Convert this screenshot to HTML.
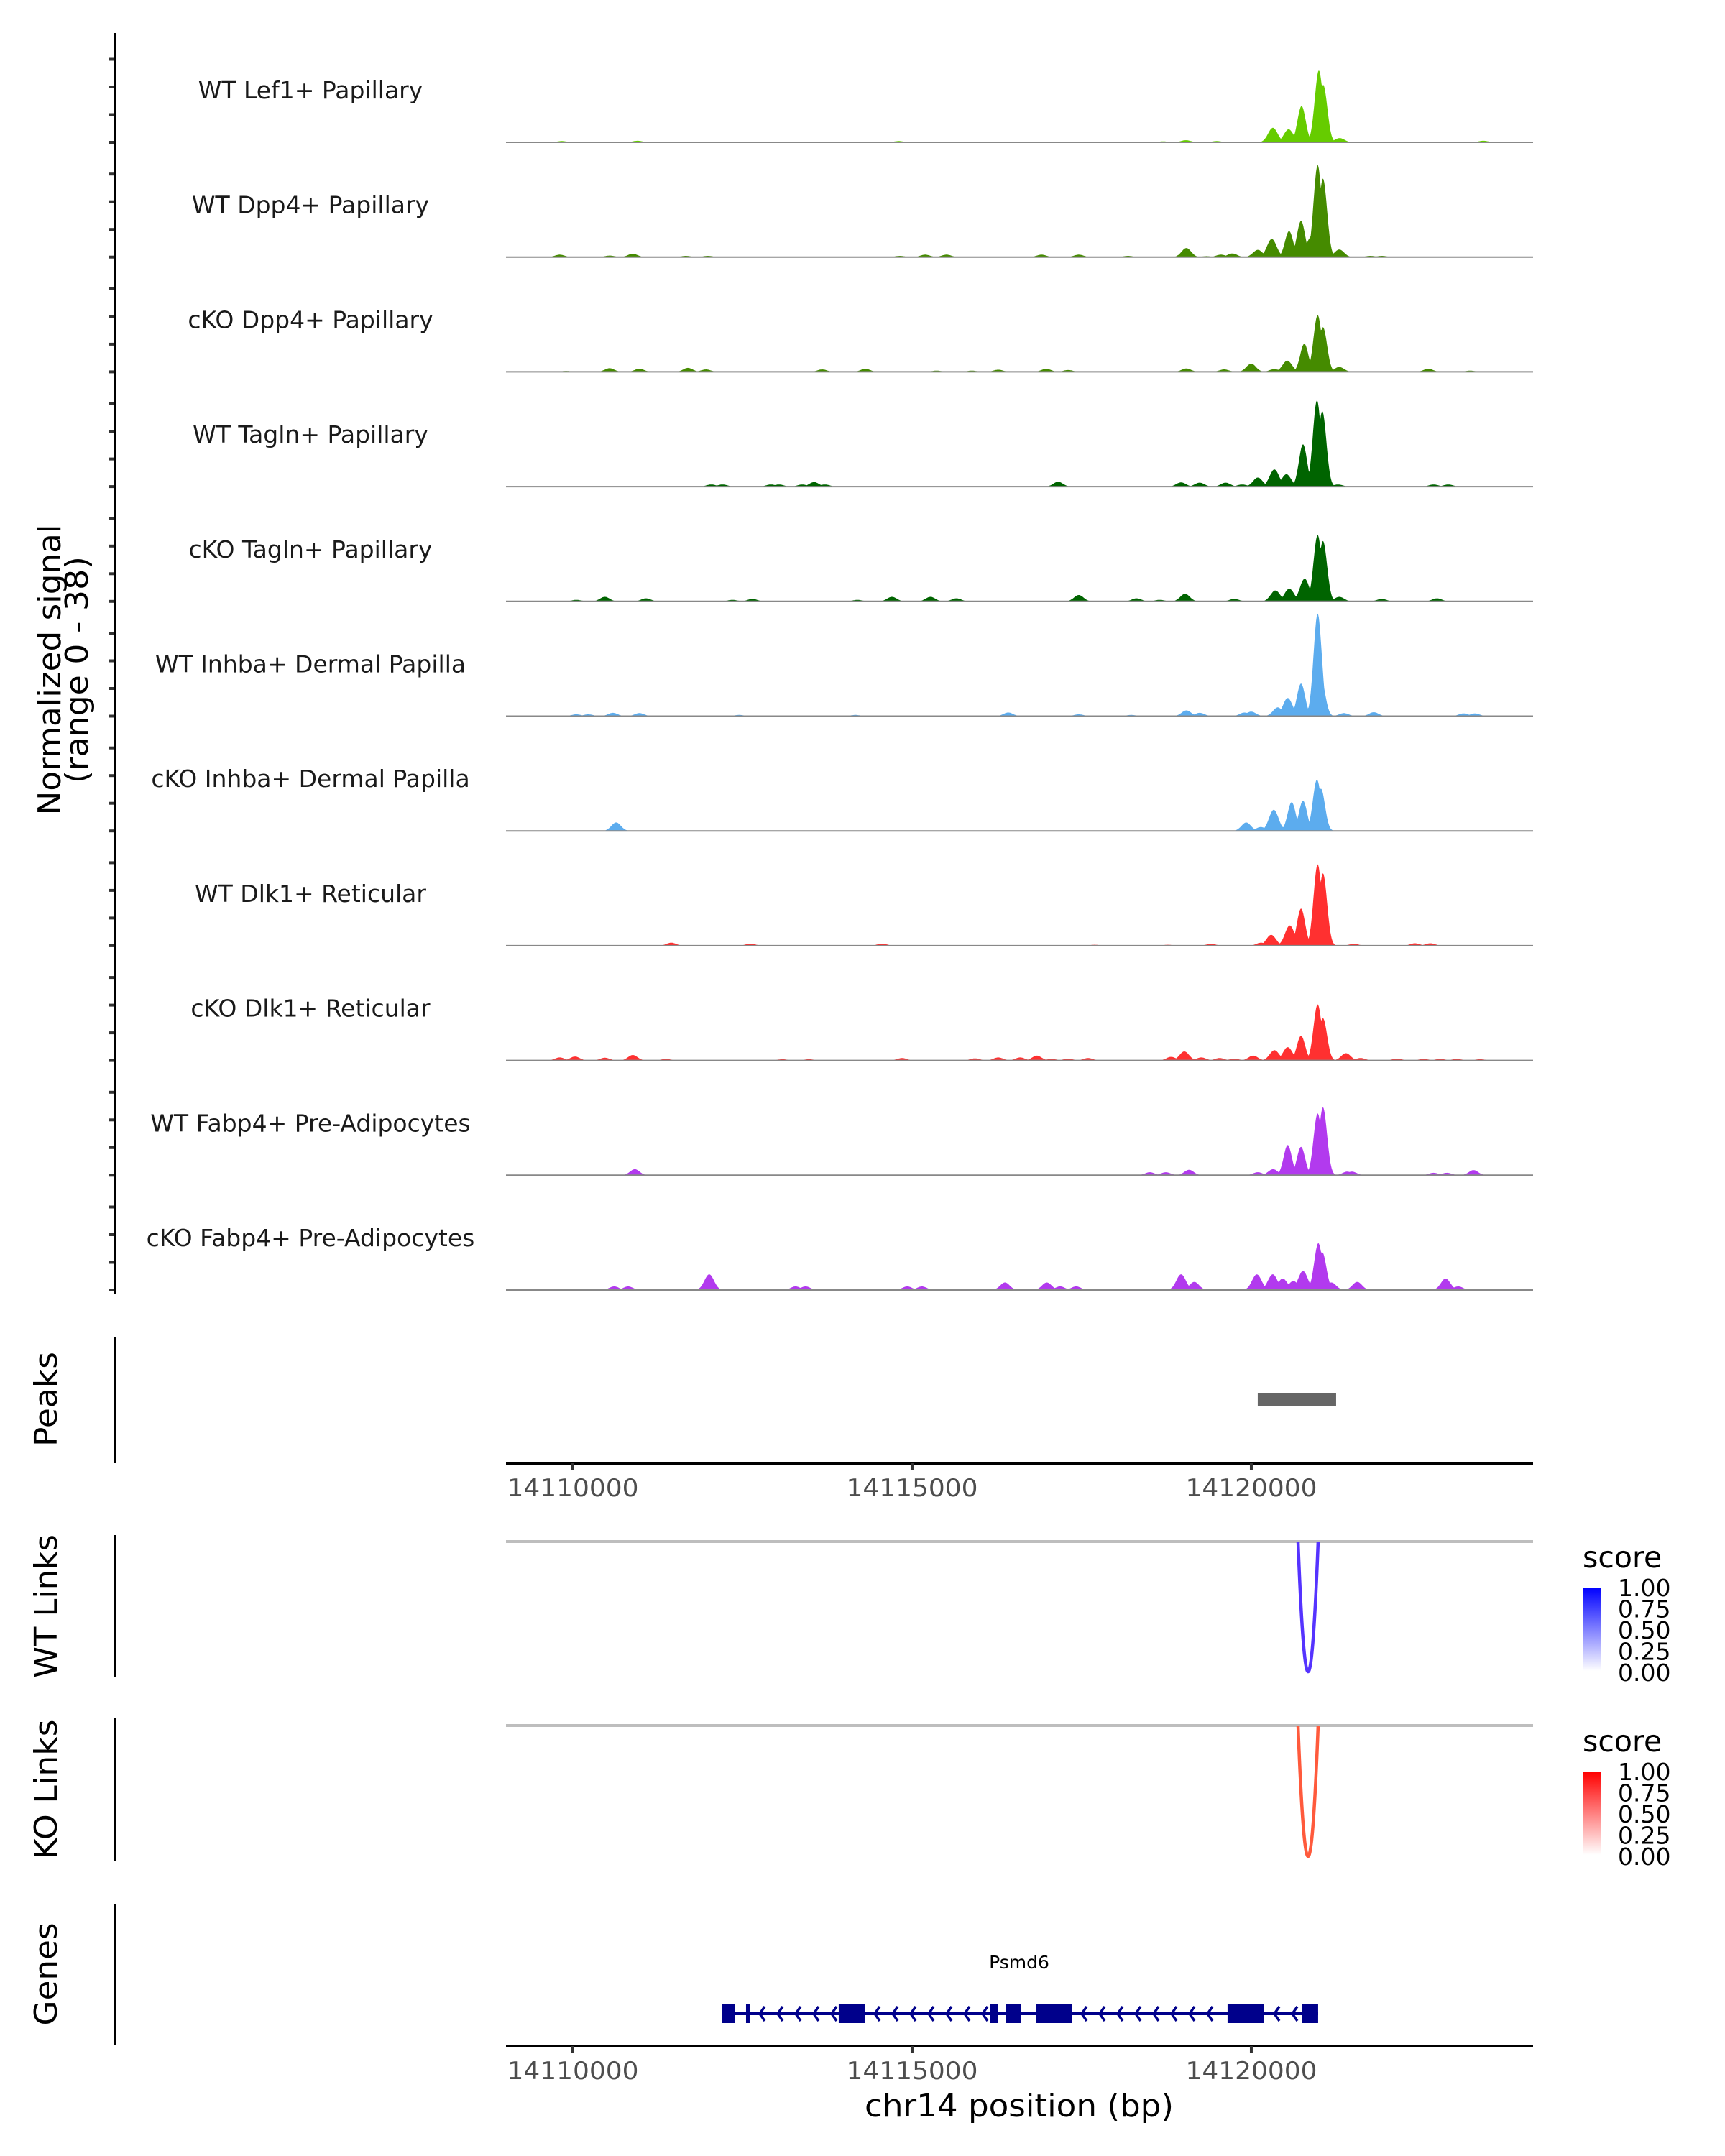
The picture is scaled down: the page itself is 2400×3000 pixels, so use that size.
<!DOCTYPE html>
<html><head><meta charset="utf-8"><title>Coverage plot chr14</title>
<style>
html,body{margin:0;padding:0;background:#fff;}
svg{display:block;font-family:"DejaVu Sans","Liberation Sans",sans-serif;}
</style></head>
<body>
<svg id="chart" xmlns="http://www.w3.org/2000/svg" width="2400" height="3000" viewBox="0 0 2400 3000">
<defs>
<linearGradient id="gradWT" x1="0" y1="1" x2="0" y2="0"><stop offset="0" stop-color="#ffffff"/><stop offset="1" stop-color="#0000ff"/></linearGradient>
<linearGradient id="gradKO" x1="0" y1="1" x2="0" y2="0"><stop offset="0" stop-color="#ffffff"/><stop offset="1" stop-color="#ff0000"/></linearGradient>
<clipPath id="plotClip"><rect x="704" y="0" width="1429" height="3000"/></clipPath>
<clipPath id="wtClip"><rect x="704" y="2145" width="1429" height="200"/></clipPath>
<clipPath id="koClip"><rect x="704" y="2401" width="1429" height="200"/></clipPath>
</defs>
<g id="tracks" clip-path="url(#plotClip)"></g>
<g id="labels"></g>
<g id="axes"></g>
<g id="extra"></g>
</svg>
<script>
// ---- data ----
const regionStart = 14109015;
const regionEnd = 14124153;
const trackNames = ["WT Lef1+ Papillary","WT Dpp4+ Papillary","cKO Dpp4+ Papillary","WT Tagln+ Papillary","cKO Tagln+ Papillary","WT Inhba+ Dermal Papilla","cKO Inhba+ Dermal Papilla","WT Dlk1+ Reticular","cKO Dlk1+ Reticular","WT Fabp4+ Pre-Adipocytes","cKO Fabp4+ Pre-Adipocytes"];
const trackColors = ["#66cc00","#458b00","#458b00","#006400","#006400","#5cacee","#5cacee","#ff3030","#ff3030","#b23aee","#b23aee"];
const yMax = 38;
const xTicks = [14110000,14115000,14120000];

// peak positions (bp) and heights (normalized signal) per track
const lef1Pos = [14120996,14121060,14120741,14120550,14120318,14121303,14119036,14119490,14109838,14110953,14114804,14123420,14118700];
const lef1H   = [23.8,19,12,4.3,4.8,1.4,0.7,0.4,0.4,0.5,0.4,0.5,0.3];
const wtDpp4Pos = [14120978,14121056,14120880,14120733,14120557,14120302,14120096,14119043,14121297,14119720,14119553,14109806,14110541,14110883,14111667,14111990,14114821,14115194,14115507,14116908,14117457,14118182,14121757,14121923,14119340];
const wtDpp4H   = [30.5,26,6.6,12,8.6,6,2.4,3,2.5,1.2,0.8,0.8,0.5,1.1,0.4,0.4,0.4,0.8,0.8,0.8,0.8,0.4,0.4,0.4,0.3];
const koDpp4Pos = [14120978,14121056,14120781,14120530,14119998,14121297,14119043,14122609,14123226,14110541,14110981,14111697,14111961,14113675,14114312,14116271,14116977,14117300,14119600,14120340,14109900,14115360,14115880];
const koDpp4H   = [18.8,14.8,9.3,3.7,2.7,1.6,1.1,1.0,0.4,1.2,1.0,1.3,0.8,0.8,1.0,0.7,1.0,0.6,0.8,0.9,0.3,0.4,0.4];
const wtTaglnPos = [14120968,14121046,14120762,14120340,14120517,14120096,14112040,14112206,14112920,14113038,14113381,14113557,14113714,14117153,14118965,14119239,14119621,14119866,14121277,14122687,14122903];
const wtTaglnH   = [28.6,25,14,5.7,4.1,3,0.7,0.7,0.7,0.7,0.7,1.5,0.7,1.6,1.4,1.3,1.3,0.7,0.7,0.7,0.7];
const koTaglnPos = [14120978,14121056,14120786,14120560,14120355,14119023,14117457,14121297,14110472,14111079,14112647,14114704,14115272,14115654,14118309,14119749,14121923,14122737,14110051,14112353,14114194,14118650];
const koTaglnH   = [22,20,7.5,4.2,3.6,2.5,2.1,1.5,1.5,1.0,0.8,1.5,1.5,1.0,1.0,0.8,0.8,1.0,0.5,0.5,0.5,0.5];
const wtInhbaPos = [14120978,14121030,14120733,14120537,14120390,14119998,14119043,14121806,14121365,14119239,14110590,14110981,14116418,14117457,14123128,14123295,14110051,14110227,14112450,14114165,14118230,14119900];
const wtInhbaH   = [34,12,10.8,6,2.9,1.5,1.9,1.3,1.0,1.1,1.1,1.0,1.2,0.6,0.9,0.9,0.6,0.6,0.4,0.4,0.4,1.2];
const koInhbaPos = [14120968,14121026,14120762,14120595,14120331,14119925,14120140,14120429,14110638];
const koInhbaH   = [17,14,10,9.5,7,2.8,1.3,1.5,2.8];
const wtDlk1Pos = [14120978,14121056,14120733,14120567,14120293,14120145,14111451,14112617,14114557,14119406,14121512,14122413,14122638,14117692,14118770];
const wtDlk1H   = [27,24,12.3,6.7,3.6,1.0,1.0,0.7,0.7,0.6,0.6,0.8,0.8,0.3,0.3];
const koDlk1Pos = [14120978,14121056,14120733,14120537,14120341,14120027,14119013,14118818,14119263,14119533,14121395,14121610,14109806,14110031,14110472,14110883,14111373,14113087,14113479,14114851,14115928,14116271,14116594,14116839,14117055,14117300,14117594,14122148,14122540,14122785,14123030,14123373,14119750];
const koDlk1H   = [18.6,14,8.2,4.4,3.4,1.6,3,1.2,1.0,0.8,2.4,0.8,1.0,1.3,0.9,1.8,0.5,0.4,0.4,0.8,0.7,1.0,1.0,1.6,0.5,0.6,0.8,0.6,0.5,0.5,0.5,0.4,0.6];
const wtFabp4Pos = [14121056,14120978,14120733,14120537,14120321,14120096,14121414,14121483,14110913,14118504,14118740,14119082,14122687,14122883,14123275];
const wtFabp4H   = [22.5,20.5,9.4,10,2,1.0,1.2,1.2,2,1.0,1.0,1.8,0.8,0.8,1.7];
const koFabp4Pos = [14120988,14121046,14120762,14120316,14120081,14120463,14118965,14119160,14121561,14122864,14123050,14112010,14110609,14110815,14113283,14113430,14114929,14115145,14116369,14116986,14117182,14117418,14120620,14121180];
const koFabp4H   = [15.5,12.5,6.3,5.2,5.2,3.8,5.2,2.7,2.7,3.8,1.2,5.2,1.2,1.2,1.2,1.2,1.2,1.2,2.5,2.5,1.2,1.2,3,2.5];

const trackPos = [lef1Pos,wtDpp4Pos,koDpp4Pos,wtTaglnPos,koTaglnPos,wtInhbaPos,koInhbaPos,wtDlk1Pos,koDlk1Pos,wtFabp4Pos,koFabp4Pos];
const trackH = [lef1H,wtDpp4H,koDpp4H,wtTaglnH,koTaglnH,wtInhbaH,koInhbaH,wtDlk1H,koDlk1H,wtFabp4H,koFabp4H];

const peakStarts = [14120095];
const peakEnds = [14121250];
const wtLinkStart = [14120689];
const wtLinkEnd = [14120985];
const wtLinkScore = [1.0];
const koLinkStart = [14120689];
const koLinkEnd = [14120985];
const koLinkScore = [1.0];
const legendTicks = ["1.00","0.75","0.50","0.25","0.00"];
const geneName = "Psmd6";
const geneStart = 14112203, geneEnd = 14120985;
const exonStarts = [14112203,14112553,14113919,14116155,14116388,14116833,14119650,14120752];
const exonEnds   = [14112394,14112606,14114301,14116271,14116600,14117352,14120191,14120985];

// ---- layout ----
const NS = "http://www.w3.org/2000/svg";
const X0 = 704, X1 = 2133;
function xScale(bp){ return X0 + (bp - regionStart) / (regionEnd - regionStart) * (X1 - X0); }
const tickStep = 38.5, trackHeight = 159.7;
function baseY(i){ return 198 + i * trackHeight; }
function yScale(i, v){ return baseY(i) - v / yMax * trackHeight; }
function mk(tag, attrs, parent){ const e = document.createElementNS(NS, tag); for (const k in attrs) e.setAttribute(k, attrs[k]); parent.appendChild(e); return e; }

const gT = document.getElementById('tracks');
const gL = document.getElementById('labels');
const gA = document.getElementById('axes');
const gE = document.getElementById('extra');
const step = 10;

for (let i = 0; i < trackNames.length; i++) {
  const pos = trackPos[i], h = trackH[i];
  let d = "M" + X0 + "," + baseY(i);
  for (let bp = regionStart; bp <= regionEnd; bp += step) {
    let v = 0;
    for (let k = 0; k < pos.length; k++) {
      const dx = (bp - pos[k]) / (h[k] > 8 ? 60 : 70);
      if (Math.abs(dx) < 4) v = Math.max(v, h[k] * Math.exp(-0.5 * dx * dx));
    }
    if (v < 0.2) v = 0;
    d += " L" + xScale(bp).toFixed(1) + "," + yScale(i, v).toFixed(1);
  }
  d += " L" + X1 + "," + baseY(i) + " Z";
  const area = mk('path', {d: d, fill: trackColors[i]}, gT);
  
  
  const bl = mk('line', {x1: X0, x2: X1, y1: baseY(i), y2: baseY(i), stroke: '#888', 'stroke-width': 2}, gT);
  
  
  const t = mk('text', {x: 432, y: baseY(i) - 61, 'text-anchor': 'middle', 'font-size': 33, fill: '#1a1a1a'}, gL);
  t.textContent = trackNames[i];
  
  
  for (let k = 0; k < 4; k++) {
    const ty = baseY(i) - k * tickStep;
    const tk = mk('line', {x1: 152, x2: 160, y1: ty, y2: ty, stroke: '#333', 'stroke-width': 4}, gA);
    
    
  }
}
const la = mk('line', {x1: 160, x2: 160, y1: 46, y2: 1800, stroke: '#000', 'stroke-width': 4}, gA);


const yt = mk('text', {transform: 'translate(84,932) rotate(-90)', 'text-anchor': 'middle', 'font-size': 44, fill: '#000', textLength: 405, lengthAdjust: 'spacingAndGlyphs'}, gA);
yt.textContent = 'Normalized signal';


const yt2 = mk('text', {transform: 'translate(122,932) rotate(-90)', 'text-anchor': 'middle', 'font-size': 44, fill: '#000', textLength: 316, lengthAdjust: 'spacingAndGlyphs'}, gA);
yt2.textContent = '(range 0 - 38)';



const sides = [["Peaks",1861,2036,1947,132],["WT Links",2136,2334,2235,200],["KO Links",2391,2590,2490,195],["Genes",2649,2846,2747,143]];
for (const s of sides) {
  const l = mk('line', {x1: 160, x2: 160, y1: s[1], y2: s[2], stroke: '#000', 'stroke-width': 4}, gA);
  
  
  const t = mk('text', {transform: 'translate(79,' + s[3] + ') rotate(-90)', 'text-anchor': 'middle', 'font-size': 44, fill: '#000', textLength: s[4], lengthAdjust: 'spacingAndGlyphs'}, gA);
  t.textContent = s[0];
  
  
}

for (let i = 0; i < peakStarts.length; i++) {
  const r = mk('rect', {x: xScale(peakStarts[i]), y: 1939, width: xScale(peakEnds[i]) - xScale(peakStarts[i]), height: 17, fill: '#666'}, gE);
  
  
}
function xAxis(y, labelY, name){
  const a = mk('line', {x1: X0, x2: X1, y1: y, y2: y, stroke: '#000', 'stroke-width': 4}, gA);
  
  
  for (const v of xTicks) {
    const tk = mk('line', {x1: xScale(v), x2: xScale(v), y1: y, y2: y + 10, stroke: '#333', 'stroke-width': 4}, gA);
    
    
    const tl = mk('text', {x: xScale(v), y: labelY, 'text-anchor': 'middle', 'font-size': 34, fill: '#4d4d4d', textLength: 183, lengthAdjust: 'spacingAndGlyphs'}, gA);
    tl.textContent = String(v);
    
    
  }
}
xAxis(2036, 2082, 'peaks-x-axis');
xAxis(2847, 2893, 'x-axis-line');
const xt = mk('text', {x: 1418, y: 2945, 'text-anchor': 'middle', 'font-size': 44, fill: '#000', textLength: 430, lengthAdjust: 'spacingAndGlyphs'}, gA);
xt.textContent = 'chr14 position (bp)';



function links(starts, ends, scores, lineY, depth, color, clip, name){
  const gl = mk('line', {x1: X0, x2: X1, y1: lineY, y2: lineY, stroke: '#bebebe', 'stroke-width': 4}, gE);
  
  
  const g = mk('g', {'clip-path': 'url(#' + clip + ')'}, gE);
  for (let i = 0; i < starts.length; i++) {
    const a = xScale(starts[i]), b = xScale(ends[i]), c = (a + b) / 2, w = (b - a) / 2;
    const dep = depth * scores[i];
    let d = "";
    for (let t = -1.3; t <= 1.3001; t += 0.02) {
      const x = c + t * w, y = lineY + dep * (1 - t * t);
      d += (d ? " L" : "M") + x.toFixed(2) + "," + y.toFixed(2);
    }
    const p = mk('path', {d: d, fill: 'none', stroke: color, 'stroke-width': 4.5}, g);
    
    
  }
}
links(wtLinkStart, wtLinkEnd, wtLinkScore, 2145, 181, '#5533ff', 'wtClip', 'wt-link');
links(koLinkStart, koLinkEnd, koLinkScore, 2401, 182, '#ff5a3c', 'koClip', 'ko-link');

function legend(titleY, barTop, grad, name){
  const t = mk('text', {x: 2202, y: titleY, 'font-size': 41, fill: '#000'}, gE);
  t.textContent = 'score';
  
  
  const r = mk('rect', {x: 2203, y: barTop, width: 24, height: 116, fill: 'url(#' + grad + ')'}, gE);
  
  
  for (let k = 0; k < legendTicks.length; k++) {
    const l = mk('text', {x: 2251, y: barTop + 12 + k * 29.5, 'font-size': 33, fill: '#000'}, gE);
    l.textContent = legendTicks[k];
    
    
  }
}
legend(2181, 2209, 'gradWT', 'wt-legend');
legend(2437, 2465, 'gradKO', 'ko-legend');

const gy = 2802;
const gname = mk('text', {x: 1418, y: 2739, 'text-anchor': 'middle', 'font-size': 25, fill: '#000'}, gE);
gname.textContent = geneName;


const gl = mk('line', {x1: xScale(geneStart), x2: xScale(geneEnd), y1: gy, y2: gy, stroke: '#00008b', 'stroke-width': 4}, gE);


for (let i = 0; i < exonStarts.length - 1; i++) {
  const a = xScale(exonEnds[i]) + 14, b = xScale(exonStarts[i + 1]) - 8;
  for (let x = a; x < b; x += 25) {
    const ch = mk('path', {d: 'M' + (x + 7) + ',' + (gy - 10) + ' L' + x + ',' + gy + ' L' + (x + 7) + ',' + (gy + 10), fill: 'none', stroke: '#00008b', 'stroke-width': 3.5}, gE);
    
    
  }
}
for (let i = 0; i < exonStarts.length; i++) {
  const r = mk('rect', {x: xScale(exonStarts[i]), y: gy - 13, width: Math.max(4, xScale(exonEnds[i]) - xScale(exonStarts[i])), height: 26, fill: '#00008b'}, gE);
  
  
}
</script>
</body></html>
